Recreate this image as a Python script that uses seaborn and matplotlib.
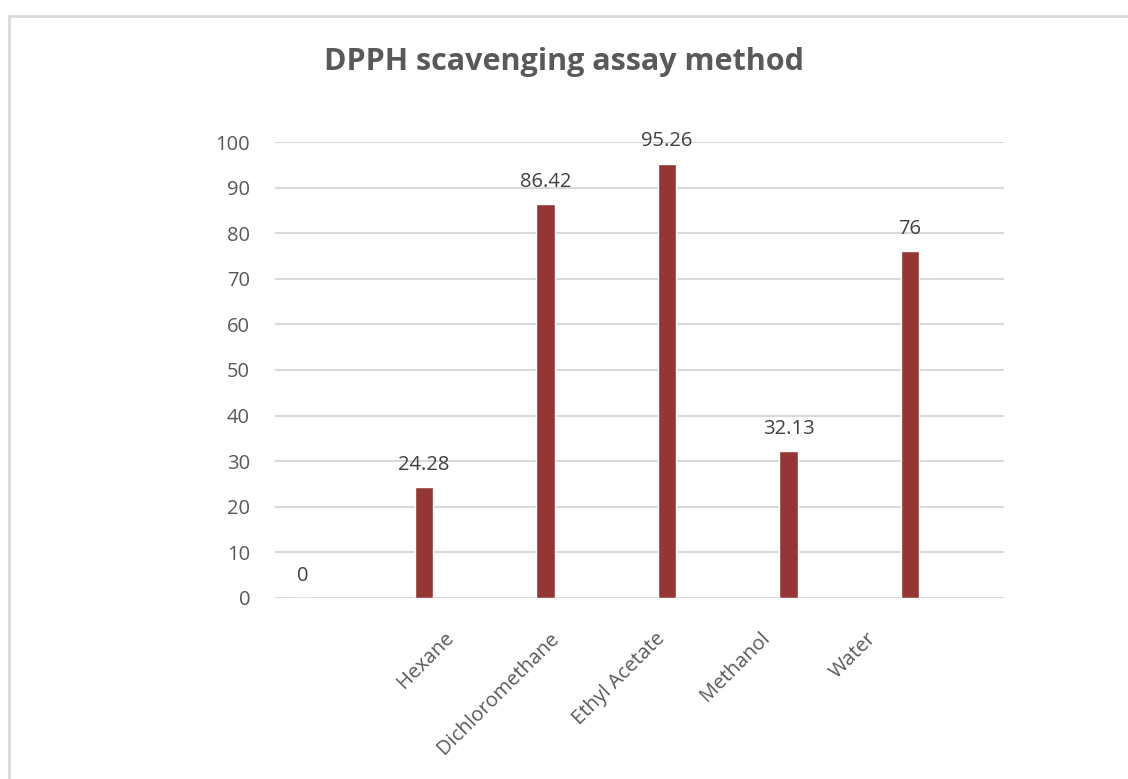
#!/usr/bin/env python3
import pandas as pd
import matplotlib.pyplot as plt
import matplotlib.patches as mpatches
import seaborn as sns

# values
solvents = ["", "Hexane", "Dichloromethane", "Ethyl Acetate", "Methanol", "Water"]
scavenging = [0, 24.28, 86.42, 95.26, 32.13, 76]
value_labels = ["0", "24.28", "86.42", "95.26", "32.13", "76"]

BAR_COLOR = "#943634"
GRID_COLOR = "#d9d9d9"
TEXT_COLOR = "#595959"
LABEL_COLOR = "#404040"


def main():
    sns.set_theme(style="white")
    plt.rcParams["font.family"] = ["Open Sans", "DejaVu Sans"]

    df = pd.DataFrame({"solvent": solvents, "value": scavenging})

    fig = plt.figure(figsize=(11.28, 7.79), dpi=100)
    ax = fig.add_axes([0.2438, 0.2324, 0.6463, 0.5853])

    sns.barplot(data=df, x="solvent", y="value", order=solvents,
                color=BAR_COLOR, saturation=1, width=0.15, ax=ax)

    ax.set_xlim(-0.226, 5.774)
    ax.set_ylim(0, 100)
    ax.set_yticks(range(0, 101, 10))
    ax.yaxis.grid(True, color=GRID_COLOR, linewidth=1.5)
    ax.set_axisbelow(True)
    for s in ax.spines.values():
        s.set_visible(False)
    ax.tick_params(axis="y", length=0, pad=18, labelsize=14.5, labelcolor=TEXT_COLOR)
    ax.set_xlabel("")
    ax.set_ylabel("")

    # category labels sit a bit off the bars, like in the source chart
    pos = [0.354 + 0.868 * i for i in range(1, len(solvents))]
    ax.set_xticks(pos)
    ax.set_xticklabels(solvents[1:], rotation=45, ha="right", va="center",
                       rotation_mode="anchor", fontsize=14.5, color=TEXT_COLOR)
    ax.tick_params(axis="x", length=0, pad=27)

    for i, (v, txt) in enumerate(zip(scavenging, value_labels)):
        ax.annotate(txt, (i, v), xytext=(0, 12.5), textcoords="offset points",
                    ha="center", va="baseline", fontsize=14.5, color=LABEL_COLOR)

    fig.text(0.5, 0.92, "DPPH scavenging assay method", ha="center", va="center",
             fontsize=22, fontweight="bold", color=TEXT_COLOR)

    # chart area frame (cut off on the right and bottom)
    frame = mpatches.Rectangle((8.5 / 1128, -0.1), 1.2, 1.1 - 16.5 / 779,
                               transform=fig.transFigure, fill=False,
                               edgecolor=GRID_COLOR, linewidth=2)
    fig.patches.append(frame)

    fig.savefig("out.png", dpi=100)
    plt.close(fig)


if __name__ == "__main__":
    main()
